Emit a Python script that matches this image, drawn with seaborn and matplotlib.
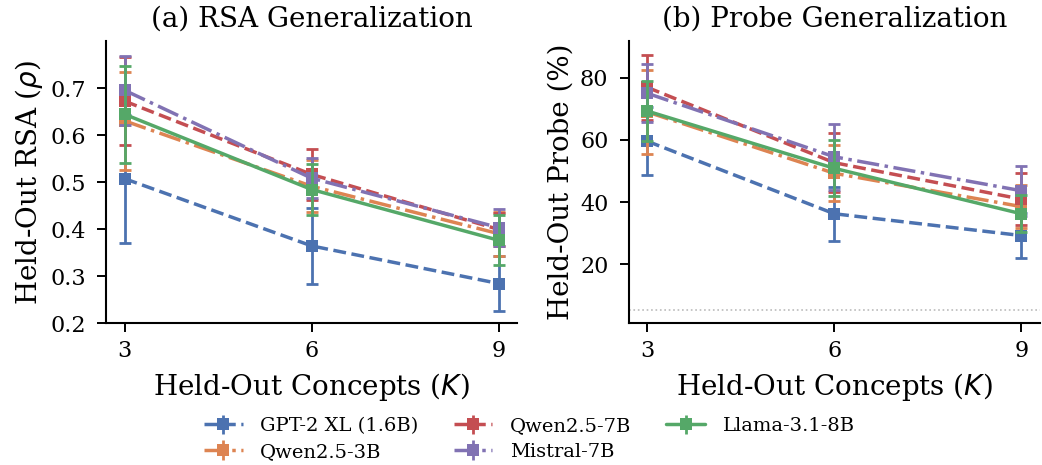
import numpy as np
import pandas as pd
import matplotlib
matplotlib.use("Agg")
import matplotlib.pyplot as plt
import seaborn as sns

K = [3, 6, 9]
models = ["GPT-2 XL (1.6B)", "Qwen2.5-3B", "Qwen2.5-7B", "Mistral-7B", "Llama-3.1-8B"]

rsa_mean = {
    "GPT-2 XL (1.6B)": [0.507, 0.364, 0.284],
    "Qwen2.5-3B": [0.630, 0.491, 0.390],
    "Qwen2.5-7B": [0.672, 0.516, 0.399],
    "Mistral-7B": [0.695, 0.508, 0.403],
    "Llama-3.1-8B": [0.644, 0.484, 0.376],
}
rsa_err = {
    "GPT-2 XL (1.6B)": [0.136, 0.080, 0.058],
    "Qwen2.5-3B": [0.105, 0.055, 0.047],
    "Qwen2.5-7B": [0.093, 0.055, 0.035],
    "Mistral-7B": [0.073, 0.043, 0.040],
    "Llama-3.1-8B": [0.103, 0.055, 0.053],
}
probe_mean = {
    "GPT-2 XL (1.6B)": [59.6, 36.3, 29.3],
    "Qwen2.5-3B": [69.0, 49.3, 38.6],
    "Qwen2.5-7B": [76.9, 52.7, 41.0],
    "Mistral-7B": [75.0, 54.6, 43.7],
    "Llama-3.1-8B": [69.3, 50.9, 36.3],
}
probe_err = {
    "GPT-2 XL (1.6B)": [10.9, 8.6, 7.1],
    "Qwen2.5-3B": [13.5, 9.0, 7.0],
    "Qwen2.5-7B": [10.4, 9.5, 8.3],
    "Mistral-7B": [9.3, 10.6, 8.0],
    "Llama-3.1-8B": [9.7, 9.0, 6.0],
}
chance_probe = 5.3

sns.set_theme(style="ticks", context="notebook")
plt.rcParams["font.family"] = ["DejaVu Serif"]
plt.rcParams["mathtext.fontset"] = "dejavusans"
for k in ["text.color", "axes.labelcolor", "xtick.color", "ytick.color", "axes.edgecolor"]:
    plt.rcParams[k] = "black"

colors = sns.color_palette("deep")
style_map = {
    "GPT-2 XL (1.6B)": (colors[0], "--"),
    "Qwen2.5-3B": (colors[1], "-."),
    "Qwen2.5-7B": (colors[3], "--"),
    "Mistral-7B": (colors[4], "-."),
    "Llama-3.1-8B": (colors[2], "-"),
}

fig, axes = plt.subplots(1, 2, figsize=(10.42, 4.65), dpi=100)
fig.subplots_adjust(left=106/1042, right=1040/1042, top=1-41/465, bottom=1-323/465, wspace=0.27)

def draw(ax, means, errs):
    for m in models:
        c, ls = style_map[m]
        df = pd.DataFrame({"K": K, "v": means[m]})
        sns.lineplot(data=df, x="K", y="v", ax=ax, color=c, linestyle=ls, lw=2.5,
                     marker="s", markersize=8, markeredgewidth=0, legend=False)
        ax.errorbar(K, means[m], yerr=errs[m], fmt="none", ecolor=c, elinewidth=2,
                    capsize=4, capthick=2)

ax = axes[0]
draw(ax, rsa_mean, rsa_err)
ax.set_ylim(0.2, 0.8)
ax.set_yticks([0.2, 0.3, 0.4, 0.5, 0.6, 0.7])
ax.set_title("(a) RSA Generalization", fontsize=20, pad=10)
ax.set_ylabel(r"Held-Out RSA ($\rho$)", fontsize=20)

ax = axes[1]
draw(ax, probe_mean, probe_err)
ax.axhline(chance_probe, color="#bbbbbb", ls=":", lw=1.2, zorder=0)
ax.set_ylim(1.2, 91.8)
ax.set_yticks([20, 40, 60, 80])
ax.set_title("(b) Probe Generalization", fontsize=20, pad=10)
ax.set_ylabel("Held-Out Probe (%)", fontsize=20)

for ax in axes:
    ax.set_xlim(2.7, 9.3)
    ax.set_xticks(K)
    ax.set_xlabel(r"Held-Out Concepts ($K$)", fontsize=20, labelpad=6)
    ax.tick_params(labelsize=16, width=1.4, length=6.5)
    ax.tick_params(axis="x", pad=6)
    ax.tick_params(axis="y", pad=8)
    for s in ax.spines.values():
        s.set_linewidth(1.5)
    sns.despine(ax=ax)

handles = []
for m in models:
    c, ls = style_map[m]
    h = axes[0].errorbar([np.nan], [np.nan], yerr=[np.nan], color=c, ls=ls, lw=2.5,
                         marker="s", markersize=8, markeredgewidth=0, elinewidth=2,
                         capsize=4, capthick=2, label=m)
    handles.append(h)
fig.legend(handles=handles, labels=models, loc="upper center", bbox_to_anchor=(0.508, 0.132),
           ncol=3, frameon=False, fontsize=14, handlelength=2.0, columnspacing=1.8,
           labelspacing=0.4, handletextpad=0.9, borderpad=0.2)

fig.savefig("out.png", dpi=100)
